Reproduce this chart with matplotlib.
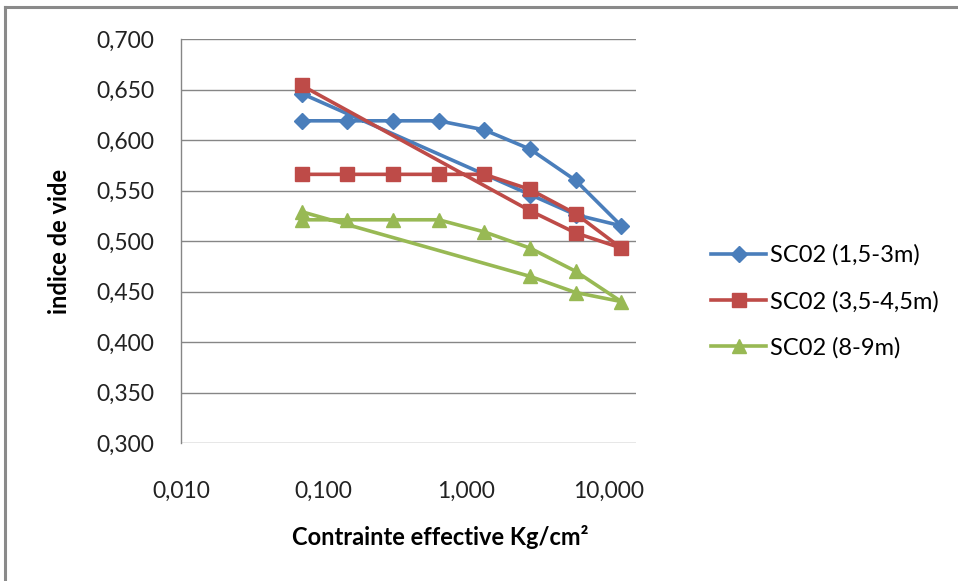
import matplotlib
matplotlib.use("Agg")
import matplotlib.pyplot as plt
from matplotlib.lines import Line2D
from matplotlib.ticker import FixedLocator, FuncFormatter, NullLocator
from matplotlib.transforms import ScaledTranslation

# Oedometer test: loading then unloading, effective stress (kg/cm²) vs void ratio
stress = [0.0625, 0.125, 0.25, 0.5, 1, 2, 4, 8, 4, 2, 0.0625]
e_sc02_1 = [0.619, 0.619, 0.619, 0.619, 0.610, 0.591, 0.560, 0.515, 0.526, 0.546, 0.646]
e_sc02_2 = [0.566, 0.566, 0.566, 0.566, 0.566, 0.551, 0.527, 0.493, 0.508, 0.530, 0.654]
e_sc02_3 = [0.521, 0.521, 0.521, 0.521, 0.509, 0.493, 0.470, 0.440, 0.449, 0.465, 0.529]
series_labels = ["SC02 (1,5-3m)", "SC02 (3,5-4,5m)", "SC02 (8-9m)"]
x_ticks = [0.01, 0.1, 1, 10]
y_ticks = [0.30, 0.35, 0.40, 0.45, 0.50, 0.55, 0.60, 0.65, 0.70]

plt.rcParams["font.family"] = ["Lato", "DejaVu Sans"]

W, H = 958, 581
AX_L, AX_R, AX_T, AX_B = 181, 636, 39, 443
fig = plt.figure(figsize=(W / 100, H / 100), dpi=100)
ax = fig.add_axes([AX_L / W, 1 - AX_B / H, (AX_R - AX_L) / W, (AX_B - AX_T) / H])

styles = [
    dict(color="#4A7EBB", marker="D", ms=8),
    dict(color="#BE4B48", marker="s", ms=10),
    dict(color="#98B954", marker="^", ms=10),
]
for ys, lab, st in zip([e_sc02_1, e_sc02_2, e_sc02_3], series_labels, styles):
    ax.plot(stress, ys, color=st["color"], lw=2.6, marker=st["marker"],
            ms=st["ms"], mfc=st["color"], mec=st["color"], label=lab,
            solid_joinstyle="round", zorder=3)

ax.set_xscale("log")
ax.set_xlim(0.01, 10)
ax.set_ylim(0.3, 0.7)
ax.xaxis.set_major_locator(FixedLocator(x_ticks))
ax.xaxis.set_minor_locator(NullLocator())
ax.set_yticks(y_ticks)
ax.xaxis.set_major_formatter(FuncFormatter(lambda v, p: f"{v:.3f}".replace(".", ",")))
ax.yaxis.set_major_formatter(FuncFormatter(lambda v, p: f"{v:.3f}".replace(".", ",")))

ax.grid(axis="y", color="#868686", lw=1.0)
ax.set_axisbelow(True)
for side in ["top", "right", "bottom"]:
    ax.spines[side].set_visible(False)
ax.spines["left"].set_color("#868686")
ax.spines["left"].set_linewidth(1.0)

ax.tick_params(axis="both", length=0, labelsize=16.5, colors="#222222")
ax.tick_params(axis="y", pad=19)
ax.tick_params(axis="x", pad=27)

# shift x tick labels the way the spreadsheet renderer spaces them
fig.canvas.draw()
for i, lbl in enumerate(ax.get_xticklabels()):
    lbl.set_transform(lbl.get_transform() + ScaledTranslation(-9.2 * i / 100, 0, fig.dpi_scale_trans))

ax.set_ylabel("indice de vide", fontsize=17, fontweight="bold")
ax.yaxis.set_label_coords((71 - AX_L) / (AX_R - AX_L), 0.5)
ax.set_xlabel("Contrainte effective Kg/cm²", fontsize=17, fontweight="bold")
ax.xaxis.set_label_coords((440 - AX_L) / (AX_R - AX_L), -(525 - AX_B) / (AX_B - AX_T))

leg = ax.legend(loc="upper left", bbox_to_anchor=(702 / W, 1 - 235 / H),
                bbox_transform=fig.transFigure, frameon=False, fontsize=17,
                handlelength=2.3, handletextpad=0.2, labelspacing=1.05,
                borderaxespad=0)

# outer chart frame
fig.add_artist(Line2D([5 / W, 5 / W], [0, 1 - 7 / H], color="#8a8a8a", lw=2.2,
                      transform=fig.transFigure))
fig.add_artist(Line2D([5 / W, 1], [1 - 7 / H, 1 - 7 / H], color="#8a8a8a", lw=2.2,
                      transform=fig.transFigure))

fig.savefig("out.png", dpi=100)
